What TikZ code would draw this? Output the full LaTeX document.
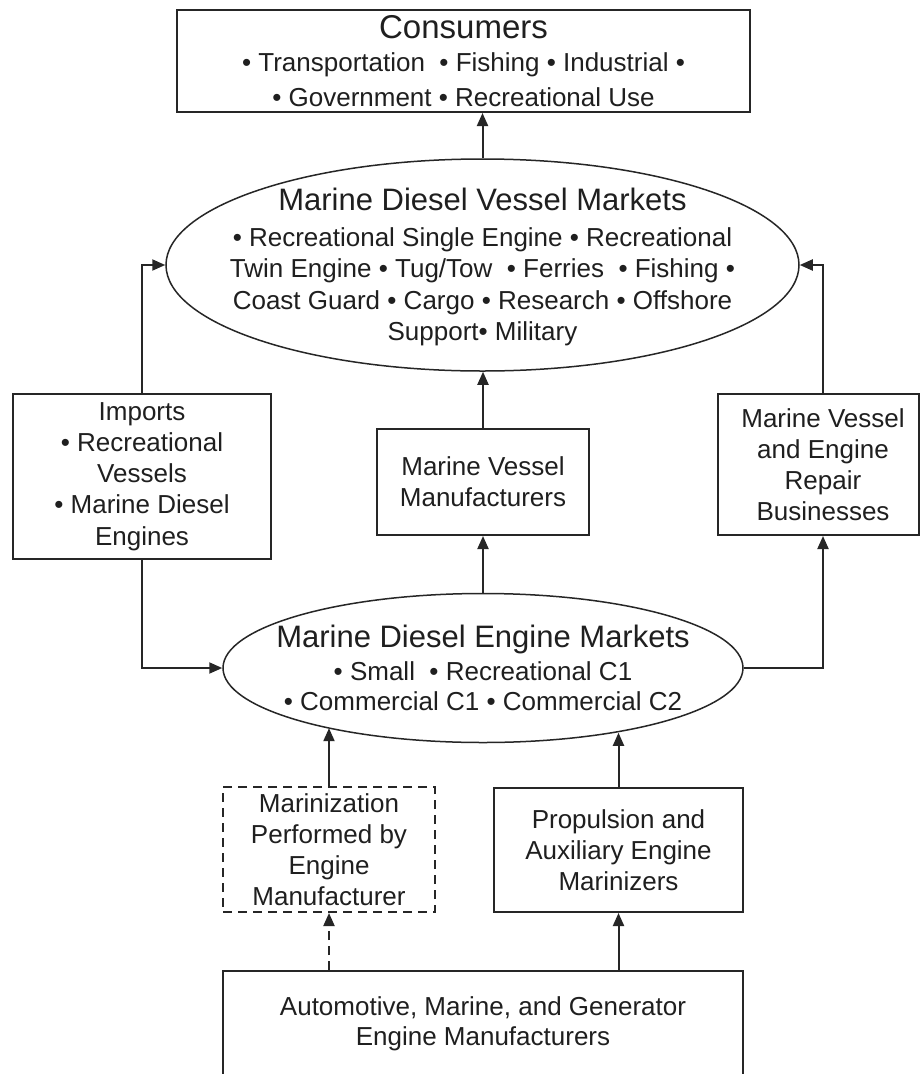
\documentclass[tikz,border=0pt]{standalone}
\usepackage{fontspec}
\setmainfont{Liberation Sans}
\usetikzlibrary{shapes.geometric,arrows.meta,calc}
\begin{document}
\begin{tikzpicture}[x=1pt,y=-1pt,
  every node/.style={font=\fontsize{26}{31.2}\selectfont, text=black!88, inner sep=0pt, align=center},
  box/.style={draw=black!85, line width=2pt, rectangle},
  oval/.style={draw=black!85, line width=1.5pt, ellipse},
  arr/.style={draw=black!85, line width=2pt, -{Triangle[length=13pt,width=11pt]}},
  dashedbox/.style={box, dash pattern=on 9pt off 6pt},
  bigfont/.style={font=\fontsize{31}{34}\selectfont}]
\useasboundingbox (0,0) rectangle (920,1074);
\clip (0,0) rectangle (920,1074);
\fill[white] (0,0) rectangle (920,1074);

% Consumers
\node[box, minimum width=573pt, minimum height=102pt] (cons) at (463.5,61)
  {{\fontsize{33}{36}\selectfont Consumers}\\[2pt]
   • Transportation\ \ • Fishing • Industrial •\\[4pt]
   • Government • Recreational Use};

% Vessel markets ellipse
\node[oval, minimum width=633pt, minimum height=212pt] (vessel) at (482.5,265) {};
\node[font=\fontsize{26}{31.5}\selectfont] (vesseltext) at (482.5,267)
  {{\fontsize{31}{34}\selectfont Marine Diesel Vessel Markets}\\[4pt]
   • Recreational Single Engine • Recreational\\
   Twin Engine • Tug/Tow\ \ • Ferries\ \ • Fishing •\\
   Coast Guard • Cargo • Research • Offshore\\
   Support• Military};

% Middle row
\node[box, minimum width=258pt, minimum height=165pt] (imports) at (142,476.5)
  {Imports\\ • Recreational\\ Vessels\\ • Marine Diesel\\ Engines};
\node[box, minimum width=212pt, minimum height=106pt] (vmf) at (483,482)
  {Marine Vessel\\ Manufacturers};
\node[box, minimum width=201pt, minimum height=141pt] (repair) at (818.5,464.5)
  {\hspace*{9pt}Marine Vessel\\ \hspace*{9pt}and Engine\\ \hspace*{9pt}Repair\\ \hspace*{9pt}Businesses};

% Engine markets ellipse
\node[oval, minimum width=520pt, minimum height=149pt] (engine) at (483,668) {};
\node (enginetext) at (483,668)
  {{\fontsize{31}{34}\selectfont Marine Diesel Engine Markets}\\[2pt]
   • Small\ \ • Recreational C1\\[-1pt]
   • Commercial C1 • Commercial C2};

% Lower row
\node[dashedbox, minimum width=212pt, minimum height=125pt] (dash) at (329,849.5)
  {Marinization\\ Performed by\\ Engine\\ Manufacturer};
\node[box, minimum width=249pt, minimum height=124pt] (prop) at (618.5,850)
  {Propulsion and\\ Auxiliary Engine\\ Marinizers};

% Bottom
\node[box, minimum width=520pt, minimum height=106pt] (bottom) at (483,1024)
  {Automotive, Marine, and Generator\\[-1pt] Engine Manufacturers};

% Connectors
\coordinate (rx) at (823,0);
\draw[arr] (vessel.north) -- (vessel.north |- cons.south);
\draw[arr] (imports.north) |- (vessel.west);
\draw[arr] (rx |- repair.north) |- (vessel.east);
\draw[arr] (vmf.north) -- (vmf.north |- vessel.south);
\draw[arr] (engine.north) -- (engine.north |- vmf.south);
\draw[arr] (engine.east) -| (rx |- repair.south);
\draw[arr] (imports.south) |- (engine.west);
\draw[arr] (dash.north) -- (dash.north |- engine.201.28);
\draw[arr] (prop.north) -- (prop.north |- engine.334.74);
\draw[arr, dash pattern=on 9pt off 6pt] (dash.south |- bottom.north) -- (dash.south);
\draw[arr] (prop.south |- bottom.north) -- (prop.south);
\end{tikzpicture}
\end{document}
